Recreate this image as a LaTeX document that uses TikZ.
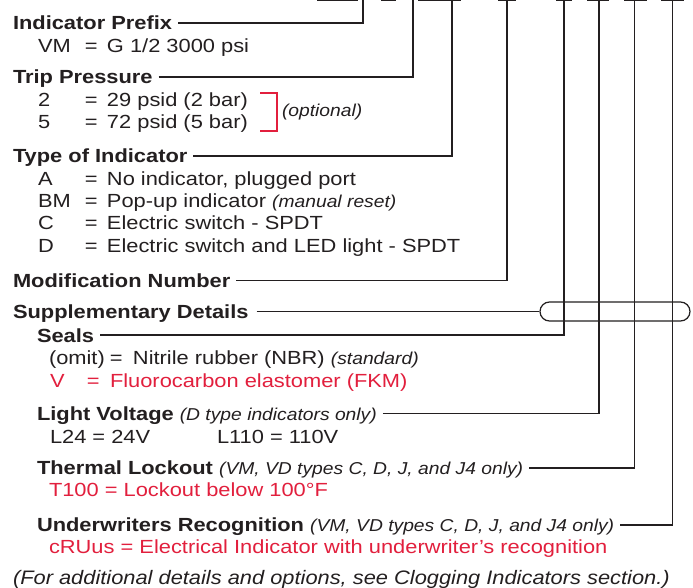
\documentclass[tikz,border=0pt]{standalone}
\usepackage{fontspec}
\setmainfont{Liberation Sans}[FakeStretch=1.15]
\newfontfamily\itfam{Liberation Sans}[FakeStretch=1.12]
\definecolor{ink}{HTML}{231F20}
\definecolor{acc}{HTML}{E21F3D}
\newcommand\note[1]{{\itfam\itshape\fontsize{17.2}{20}\selectfont #1}}
\newcommand\entry[3]{\makebox[47pt][l]{#1}\makebox[22pt][l]{=}#2#3}
\begin{document}
\begin{tikzpicture}[x=1pt,y=-1pt,
  lbl/.style={anchor=base west, inner sep=0pt, outer sep=0pt, text=ink, font=\fontsize{19}{22}\selectfont},
  hd/.style={lbl, font=\fontsize{19}{22}\selectfont\bfseries},
  redtxt/.style={lbl, text=acc},
  conn/.style={draw=ink, line width=1.2pt},
  topseg/.style={draw=ink, line width=1.6pt},
  stadium/.style={draw=ink, line width=1.2pt, rounded corners=9.5pt, minimum width=150pt, minimum height=19pt, inner sep=0pt}]
\useasboundingbox (0,0) rectangle (693,588);
\fill[white] (0,0) rectangle (693,588);

% top code-box bottoms
\foreach \a/\b in {317/358,381/396,418/461,498/516,556/572,587/609,624/647,661/684}
  \draw[topseg] (\a,0.6) -- (\b,0.6);

\coordinate (tIP) at (363,0);
\coordinate (tTP) at (413,0);
\coordinate (tTI) at (452,0);
\coordinate (tMN) at (507,0);
\coordinate (tSE) at (564,0);
\coordinate (tLV) at (599,0);
\coordinate (tTL) at (634.5,0);
\coordinate (tUR) at (672.5,0);

% Indicator prefix
\node[hd] (ip) at (13,30) {Indicator Prefix};
\node[lbl] (vm) at (38,52.7) {\entry{VM}{G 1/2 3000 psi}{}};

% Trip pressure
\node[hd] (tp) at (13,84) {Trip Pressure};
\node[lbl] (tp2) at (38,106.7) {\entry{2}{29 psid (2 bar)}{}};
\node[lbl] (tp5) at (38,129) {\entry{5}{72 psid (5 bar)}{}};
\node[lbl] (opt) at (282,117) {\note{(optional)}};
\draw[acc, line width=1.3pt] (260,93) -- (277,93) -- (277,131) -- (260,131);

% Type of indicator
\node[hd] (ti) at (13,163) {Type of Indicator};
\node[lbl] (tA) at (38,185.3) {\entry{A}{No indicator, plugged port}{}};
\node[lbl] (tBM) at (38,207.5) {\entry{BM}{Pop-up indicator }{\note{(manual reset)}}};
\node[lbl] (tC) at (38,229.7) {\entry{C}{Electric switch - SPDT}{}};
\node[lbl] (tD) at (38,252) {\entry{D}{Electric switch and LED light - SPDT}{}};

% Modification number
\node[hd] (mn) at (13,287.5) {Modification Number};

% Supplementary details
\node[hd] (sup) at (13,318.5) {Supplementary Details};
\node[stadium] (sd) at (615,311.5) {};

% Seals
\node[hd] (se) at (37,342) {Seals};
\node[lbl] (seo) at (49,364.5) {\makebox[61pt][l]{(omit)}\makebox[23pt][l]{=}Nitrile rubber (NBR) \note{(standard)}};
\node[redtxt] (sev) at (50,387) {\makebox[37pt][l]{V}\makebox[23pt][l]{=}Fluorocarbon elastomer (FKM)};

% Light voltage
\node[hd] (lv) at (37,420.5) {Light Voltage {\mdseries\note{(D type indicators only)}}};
\node[lbl] (l24) at (50,443) {L24 = 24V};
\node[lbl] (l110) at (217,443) {L110 = 110V};

% Thermal lockout
\node[hd] (tl) at (37,474) {Thermal Lockout {\mdseries\note{(VM, VD types C, D, J, and J4 only)}}};
\node[redtxt] (t100) at (49,496.5) {T100 = Lockout below 100°F};

% Underwriters
\node[hd] (ur) at (37,531) {Underwriters Recognition {\mdseries\note{(VM, VD types C, D, J, and J4 only)}}};
\node[redtxt] (cru) at (49,553) {cRUus = Electrical Indicator with underwriter’s recognition};

% footnote
\node[lbl] (fn) at (13,584.5) {{\itfam\itshape\fontsize{19.5}{22}\selectfont (For additional details and options, see Clogging Indicators section.)}};

% connectors
\draw[conn] ([shift={(6,-7)}]ip.base east) -| (tIP);
\draw[conn] ([shift={(6,-7)}]tp.base east) -| (tTP);
\draw[conn] ([shift={(6,-7)}]ti.base east) -| (tTI);
\draw[conn] ([shift={(6,-7)}]mn.base east) -| (tMN);
\draw[conn] ([shift={(8,-7)}]sup.base east) -- (sd.west);
\draw[conn] ([shift={(6,-7)}]se.base east) -| (tSE);
\draw[conn] ([shift={(6,-7)}]lv.base east) -| (tLV);
\draw[conn] ([shift={(6,-6)}]tl.base east) -| (tTL);
\draw[conn] ([shift={(6,-6)}]ur.base east) -| (tUR);
\end{tikzpicture}
\end{document}
